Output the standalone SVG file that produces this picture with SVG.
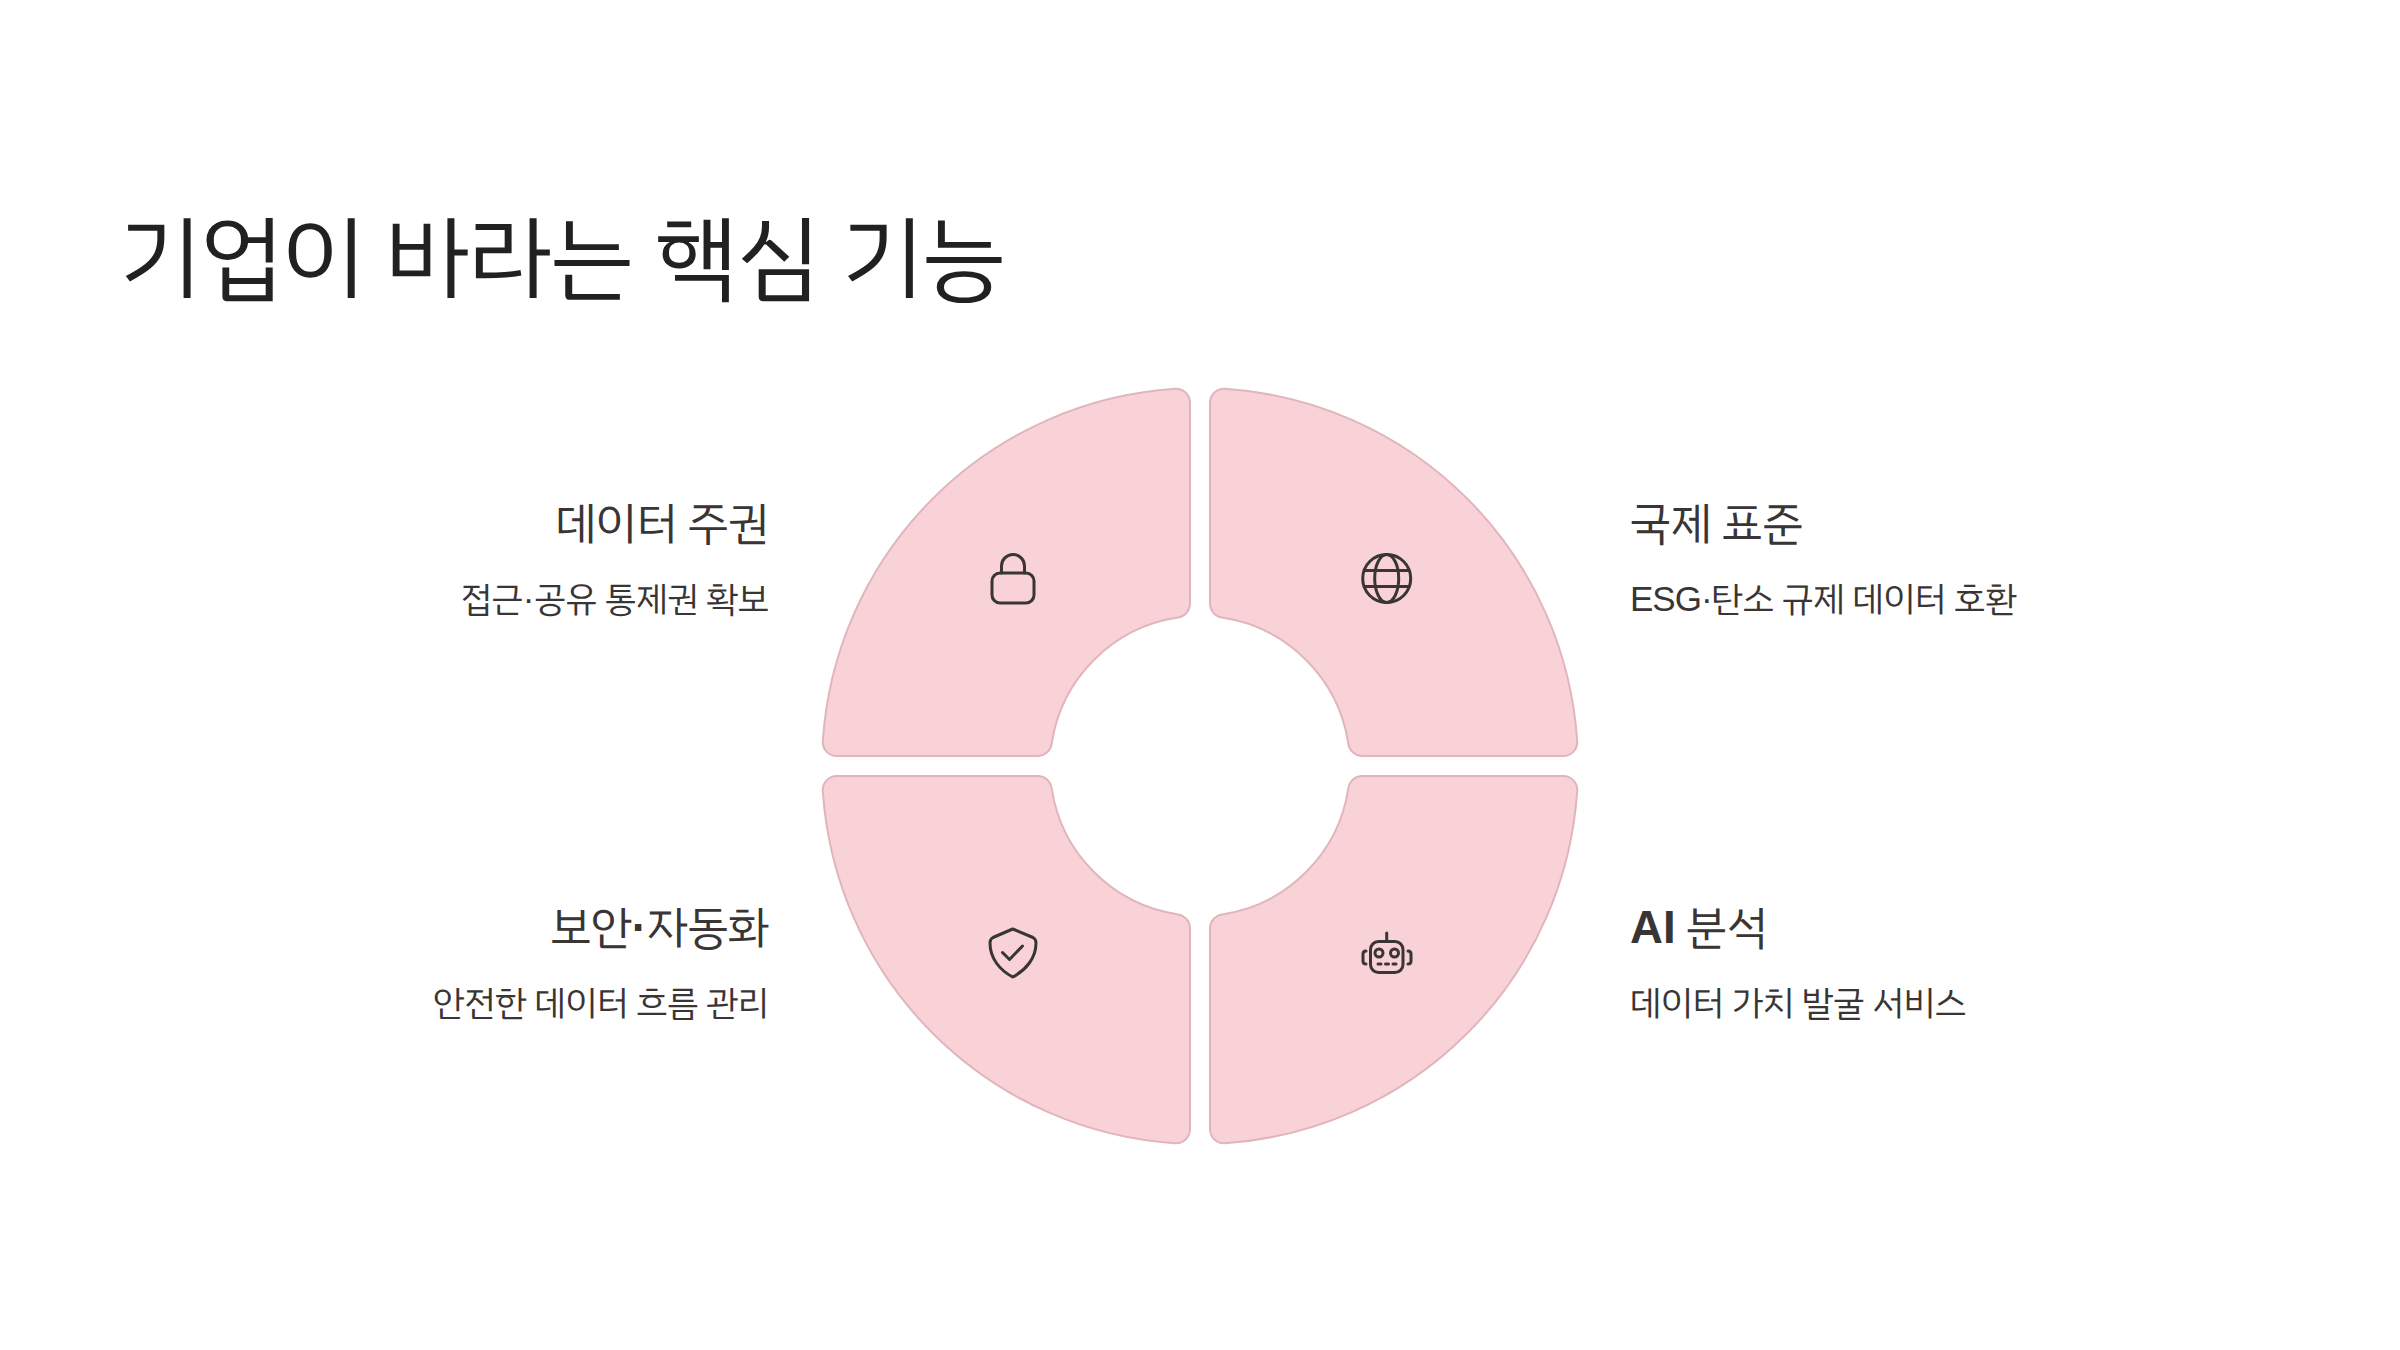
<svg xmlns="http://www.w3.org/2000/svg" width="2400" height="1350" viewBox="0 0 2400 1350">
<style>
text{font-family:"Liberation Sans","IBM Plex Sans KR","Noto Sans CJK KR",sans-serif;fill:#3a3535;word-spacing:-.05em}
.title{font-size:92px;fill:#212121;word-spacing:-.04em}
.head{font-size:45.6px}
.sub{font-size:35px}
.b{font-weight:700}
.tight{letter-spacing:-1px}
.seg{fill:#f8d2d7;stroke:#e0b6bc;stroke-width:2}
.ic{fill:none;stroke:#3a3535;stroke-width:3;stroke-linecap:round;stroke-linejoin:round}
</style>
<defs>
<path id="q" d="M-24.92-377.2A378 378 0 0 0-377.2-24.92A14 14 0 0 0-363.2-10L-162.2-10A14 14 0 0 0-148.4-21.95A150 150 0 0 1-21.95-148.4A14 14 0 0 0-10-162.2L-10-363.2A14 14 0 0 0-24.92-377.2Z"/>
</defs>
<rect width="2400" height="1350" fill="#fff"/>
<text id="title" class="title" x="118.5" y="289">기업이 바라는 핵심 기능</text>
<g id="node-sovereignty">
<use href="#q" class="seg" transform="translate(1200 766)"/>
<g class="ic"><rect x="992" y="573" width="42" height="30" rx="8"/><path d="M1001.5 573V566A11.5 11.5 0 0 1 1024.5 566V573"/></g>
<text class="head" x="769" y="539" text-anchor="end">데이터 주권</text>
<text class="sub" x="769" y="611" text-anchor="end">접근·공유 통제권 확보</text>
</g>
<g id="node-standard">
<use href="#q" class="seg" transform="translate(1200 766) scale(-1 1)"/>
<g class="ic"><circle cx="1386.7" cy="578.5" r="24"/><ellipse cx="1386.7" cy="578.5" rx="12" ry="24"/><path d="M1365 570.5H1408.5M1365 586.5H1408.5"/></g>
<text class="head" x="1630" y="539">국제 표준</text>
<text class="sub" x="1630" y="611"><tspan class="tight">ESG·</tspan>탄소 규제 데이터 호환</text>
</g>
<g id="node-security">
<use href="#q" class="seg" transform="translate(1200 766) scale(1 -1)"/>
<g class="ic"><path d="M1012.7 929L1033 937.5Q1036 939 1036 943C1036 958 1026 970 1012.7 977C999.5 970 990 958 990 943Q990 939 993 937.5Z"/><path d="M1002.5 952.5L1009.5 959.5L1022.5 946"/></g>
<text class="head" x="769" y="943" text-anchor="end">보안<tspan class="b">·</tspan>자동화</text>
<text class="sub" x="769" y="1015" text-anchor="end">안전한 데이터 흐름 관리</text>
</g>
<g id="node-ai">
<use href="#q" class="seg" transform="translate(1200 766) scale(-1 -1)"/>
<g class="ic"><rect x="1370.5" y="941.5" width="32.5" height="31" rx="8"/><path d="M1386.7 933V941"/><circle cx="1379" cy="953" r="4"/><circle cx="1394.5" cy="953" r="4"/><path d="M1378 964H1381M1385.5 964H1388.5M1393 964H1396"/><path d="M1366 951Q1363 951 1363 954V961Q1363 964 1366 964"/><path d="M1408 951Q1411 951 1411 954V961Q1411 964 1408 964"/></g>
<text class="head" x="1630" y="943"><tspan class="b">AI</tspan> 분석</text>
<text class="sub" x="1630" y="1015">데이터 가치 발굴 서비스</text>
</g>
<g id="connectors"/>
</svg>
